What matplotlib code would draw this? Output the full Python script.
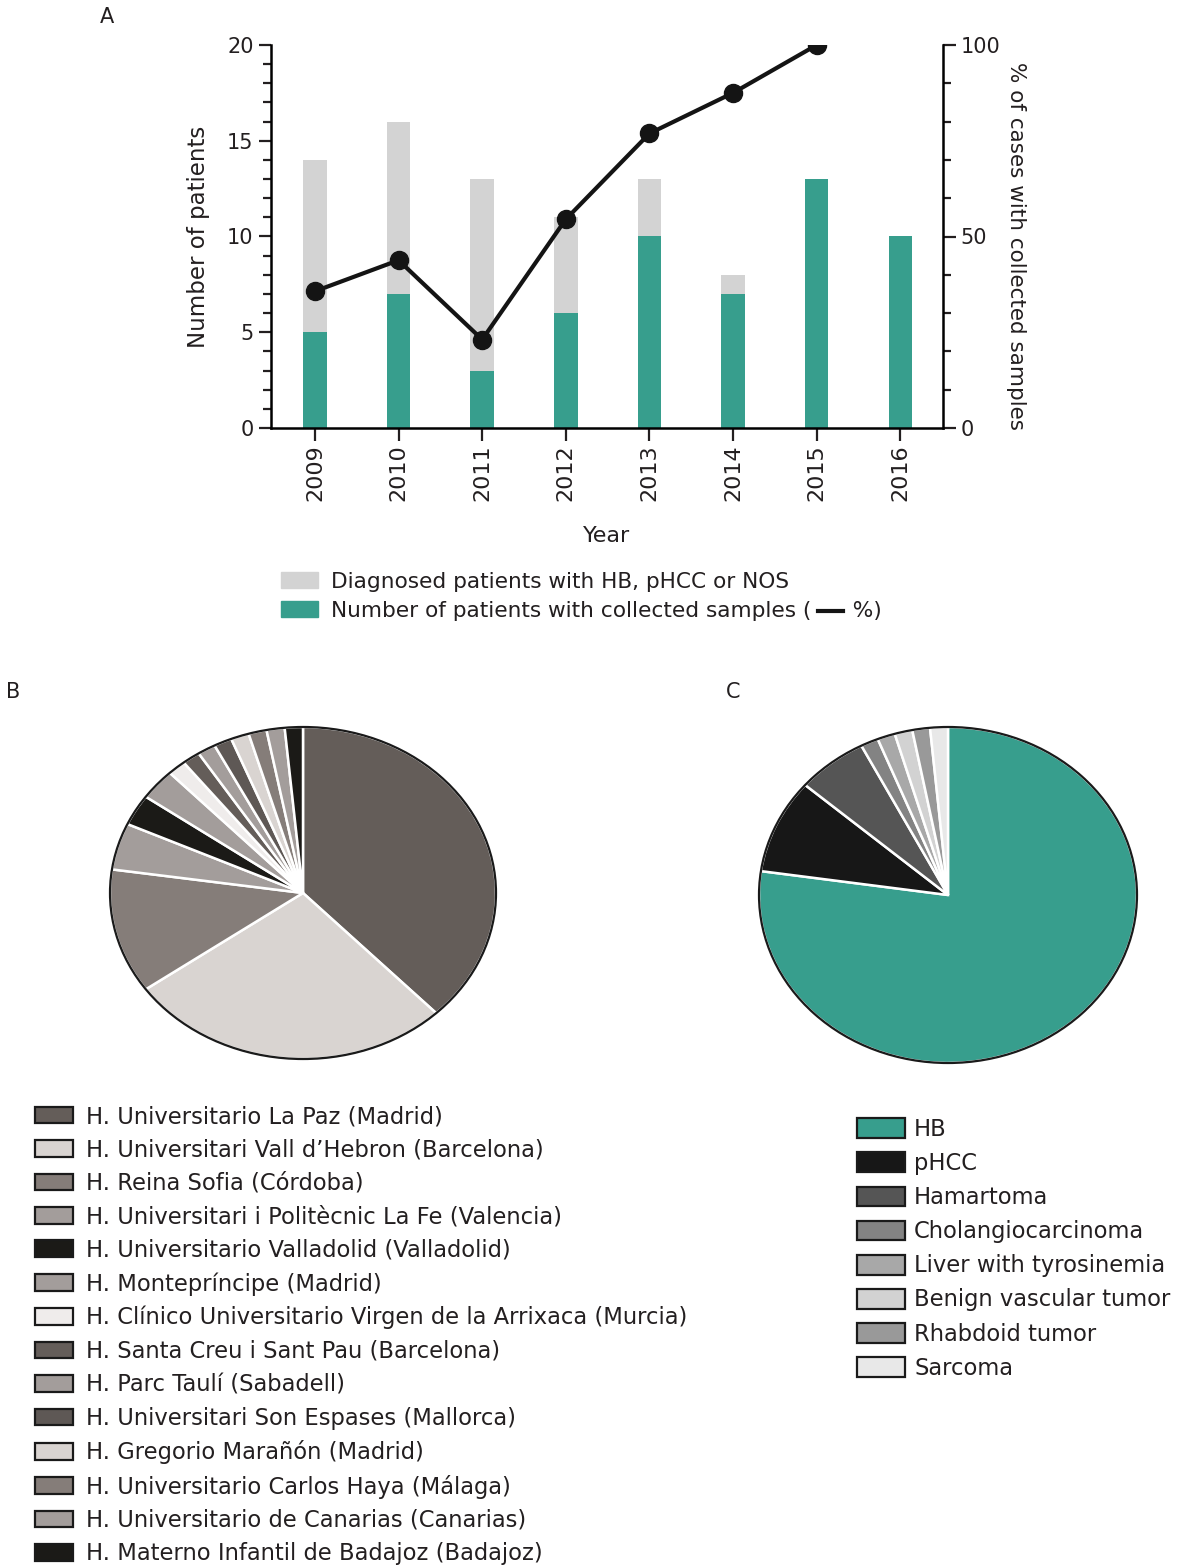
import matplotlib
matplotlib.use("Agg")
import matplotlib.pyplot as plt
from matplotlib.patches import Patch, Ellipse
from matplotlib.lines import Line2D
from matplotlib.ticker import MultipleLocator

plt.rcParams['font.family'] = ['DejaVu Sans']
plt.rcParams['text.color'] = '#231f20'
plt.rcParams['axes.labelcolor'] = '#231f20'
plt.rcParams['xtick.color'] = '#231f20'
plt.rcParams['ytick.color'] = '#231f20'

# panel A: patients per year
years = ['2009', '2010', '2011', '2012', '2013', '2014', '2015', '2016']
diagnosed = [14, 16, 13, 11, 13, 8, 13, 10]
collected = [5, 7, 3, 6, 10, 7, 13, 10]
pct_collected = [35.7, 43.8, 23.1, 54.5, 76.9, 87.5, 100]

# panel B: hospitals
hospitals = [
    'H. Universitario La Paz (Madrid)',
    'H. Universitari Vall d\u2019Hebron (Barcelona)',
    'H. Reina Sofia (Córdoba)',
    'H. Universitari i Politècnic La Fe (Valencia)',
    'H. Universitario Valladolid (Valladolid)',
    'H. Montepríncipe (Madrid)',
    'H. Clínico Universitario Virgen de la Arrixaca (Murcia)',
    'H. Santa Creu i Sant Pau (Barcelona)',
    'H. Parc Taulí (Sabadell)',
    'H. Universitari Son Espases (Mallorca)',
    'H. Gregorio Marañón (Madrid)',
    'H. Universitario Carlos Haya (Málaga)',
    'H. Universitario de Canarias (Canarias)',
    'H. Materno Infantil de Badajoz (Badajoz)',
]
hospital_cases = [25, 18, 8, 3, 2, 2, 1, 1, 1, 1, 1, 1, 1, 1]
hospital_colors = ['#645d59', '#d9d4d1', '#857d79', '#a39d9b', '#1b1a17',
                   '#a39d9b', '#efeceb', '#645d59', '#a39d9b', '#5e5855',
                   '#d9d4d1', '#857d79', '#a39d9b', '#1b1a17']

# panel C: diagnoses
diagnoses = ['HB', 'pHCC', 'Hamartoma', 'Cholangiocarcinoma',
             'Liver with tyrosinemia', 'Benign vascular tumor',
             'Rhabdoid tumor', 'Sarcoma']
diagnosis_cases = [51, 6, 4, 1, 1, 1, 1, 1]
diagnosis_colors = ['#379e8d', '#171717', '#555555', '#838383',
                    '#a8a8a8', '#d2d2d2', '#999999', '#e8e8e8']

TEAL = '#379e8d'
GREY = '#d3d3d3'
W, H = 1195, 1565
fs = 15
fs_leg = 16.3


def px_axes(fig, x0, y0, x1, y1):
    # axes from pixel box (top-left origin)
    return fig.add_axes([x0 / W, 1 - y1 / H, (x1 - x0) / W, (y1 - y0) / H])


fig = plt.figure(figsize=(W / 100, H / 100), dpi=100)

# ---- A ----
ax = px_axes(fig, 271, 45, 943, 428)
x = range(len(years))
ax.bar(x, diagnosed, width=0.28, color=GREY, zorder=1)
ax.bar(x, collected, width=0.28, color=TEAL, zorder=2)
ax.set_xlim(-0.525, 7.51)
ax.set_ylim(0, 20)
ax.set_xticks(list(x))
ax.set_xticklabels(years, rotation=90, fontsize=fs + 1)
ax.yaxis.set_major_locator(MultipleLocator(5))
ax.yaxis.set_minor_locator(MultipleLocator(1))
ax.tick_params(axis='y', which='major', length=9, width=1.6, labelsize=fs)
ax.tick_params(axis='y', which='minor', length=6, width=1.6)
ax.tick_params(axis='x', length=9, width=1.6, pad=3)
for s in ('top', 'right'):
    ax.spines[s].set_visible(False)
for s in ('left', 'bottom'):
    ax.spines[s].set_linewidth(1.8)
ax.set_ylabel('Number of patients', fontsize=16.5, labelpad=12)
ax.set_xlabel('Year', fontsize=fs + 1, labelpad=18)

ax2 = ax.twinx()
ax2.set_ylim(0, 100)
ax2.plot(range(len(pct_collected)), pct_collected, color='#141414', lw=3,
         marker='o', ms=13, zorder=5)
ax2.yaxis.set_major_locator(MultipleLocator(50))
ax2.yaxis.set_minor_locator(MultipleLocator(10))
ax2.tick_params(axis='y', which='major', length=9, width=1.6, labelsize=fs)
ax2.tick_params(axis='y', which='minor', length=6, width=1.6)
for s in ('top', 'left', 'bottom'):
    ax2.spines[s].set_visible(False)
ax2.spines['right'].set_linewidth(1.8)
ax2.set_ylabel('% of cases with collected samples', fontsize=15.5,
               rotation=270, va='center')
ax2.yaxis.set_label_coords(1.108, 0.475)

fig.text(107 / W, 1 - 17 / H, 'A', fontsize=fs, ha='center', va='center')
fig.text(13 / W, 1 - 692 / H, 'B', fontsize=fs, ha='center', va='center')
fig.text(733 / W, 1 - 692 / H, 'C', fontsize=fs, ha='center', va='center')

# legend for A
leg_a = fig.legend(
    handles=[Patch(color=GREY), Patch(color=TEAL)],
    labels=['Diagnosed patients with HB, pHCC or NOS',
            'Number of patients with collected samples (      %)'],
    loc='upper left', bbox_to_anchor=(281 / W, 1 - 572 / H), frameon=False,
    fontsize=15.6, handlelength=1.72, handleheight=0.76, handletextpad=0.57,
    labelspacing=0.4, borderpad=0, borderaxespad=0)
fig.canvas.draw()
txt = leg_a.get_texts()[1]
bb = txt.get_window_extent()
# short thick dash inside the parentheses stands for the line
dash_y = (bb.y0 + bb.y1) / 2 / H - 0.5 / H
fig.add_artist(Line2D([(bb.x1 - 63) / W, (bb.x1 - 38) / W], [dash_y, dash_y],
                      color='#141414', lw=3, transform=fig.transFigure))


def draw_pie(ax, values, colors):
    ax.pie(values, colors=colors, startangle=90, counterclock=False,
           radius=1, wedgeprops=dict(edgecolor='white', linewidth=1.8))
    ax.add_patch(Ellipse((0, 0), 2, 2, fill=False, edgecolor='#1a1a1a',
                         lw=1.6, zorder=10))
    ax.set_aspect('auto')
    ax.set_xlim(-1.03, 1.03)
    ax.set_ylim(-1.03, 1.03)
    ax.axis('off')


# ---- B ----
rx, ry = 193 * 1.03, 166 * 1.03
axb = px_axes(fig, 303 - rx, 893 - ry, 303 + rx, 893 + ry)
draw_pie(axb, hospital_cases, hospital_colors)

# ---- C ----
rx, ry = 189 * 1.03, 168 * 1.03
axc = px_axes(fig, 948 - rx, 895 - ry, 948 + rx, 895 + ry)
draw_pie(axc, diagnosis_cases, diagnosis_colors)

edge = dict(edgecolor='#1a1a1a', linewidth=1.6)
fig.legend(handles=[Patch(facecolor=c, **edge) for c in hospital_colors],
           labels=hospitals, loc='upper left',
           bbox_to_anchor=(35 / W, 1 - 1105 / H), frameon=False,
           fontsize=fs_leg, handlelength=1.68, handleheight=0.75,
           handletextpad=0.56, labelspacing=0.46, borderpad=0,
           borderaxespad=0)
fig.legend(handles=[Patch(facecolor=c, **edge) for c in diagnosis_colors],
           labels=diagnoses, loc='upper left',
           bbox_to_anchor=(857 / W, 1 - 1118 / H), frameon=False,
           fontsize=fs_leg, handlelength=2.12, handleheight=0.97,
           handletextpad=0.4, labelspacing=0.49, borderpad=0,
           borderaxespad=0)

fig.savefig('out.png', dpi=100, facecolor='white')
